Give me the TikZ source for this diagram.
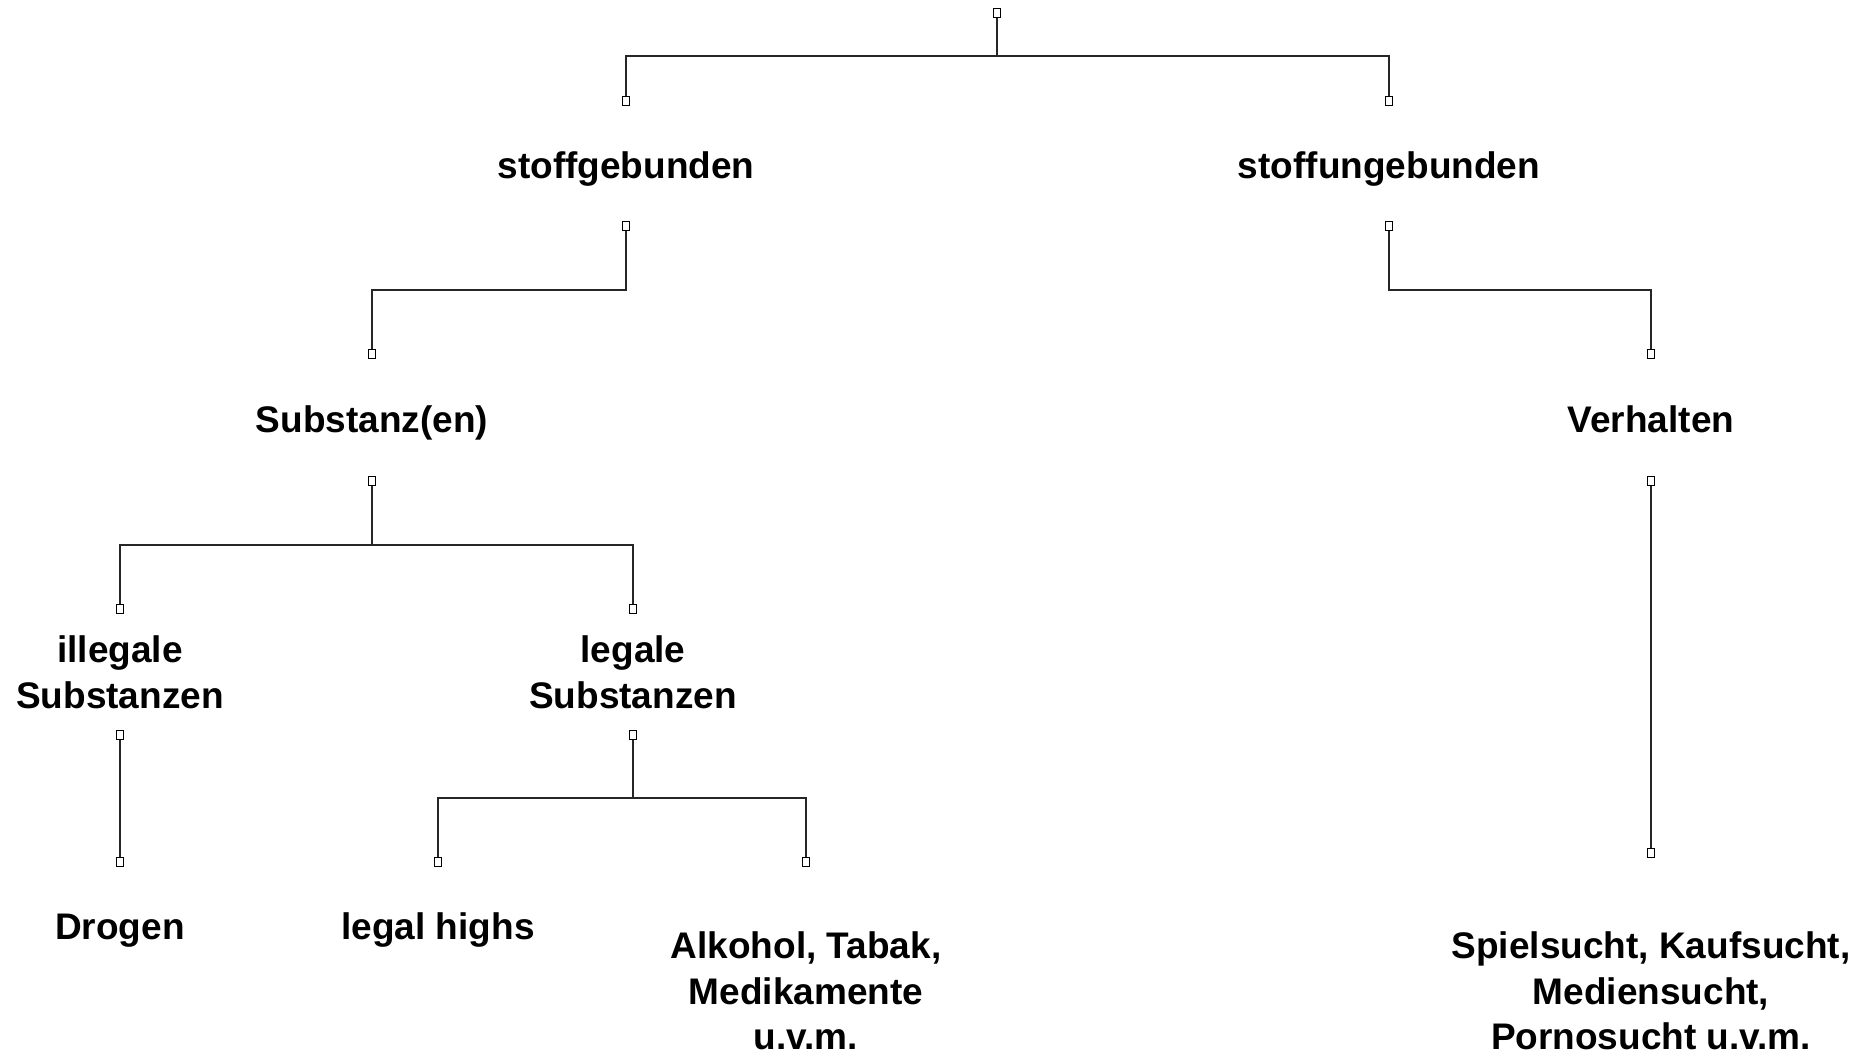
\documentclass[tikz,border=0pt]{standalone}
\usepackage{fontspec}
\setmainfont{Liberation Sans}
\begin{document}
\begin{tikzpicture}[x=0.5pt,y=-0.5pt,
  lbl/.style={font=\bfseries\fontsize{18.5pt}{22.8pt}\selectfont, align=center, inner sep=0pt},
  one/.style={lbl, anchor=base},
  port/.style={draw=black, fill=white, line width=0.65pt, minimum width=3.6pt, minimum height=4.2pt, inner sep=0pt},
  wire/.style={line width=0.9pt, draw=black!85}]
\useasboundingbox (0,0) rectangle (1865,1056);
% ports and labels
\node[port] (p0) at (997,13) {};
\node[port] (p1a) at (626,101) {};
\node[port] (p1b) at (1389,101) {};
\node[one] (t1a) at (626,178) {stoffgebunden};
\node[one] (t1b) at (1389,178) {stoffungebunden};
\node[port] (p2a) at (626,226) {};
\node[port] (p2b) at (1389,226) {};
\node[port] (p3a) at (372,354) {};
\node[port] (p3b) at (1651,354) {};
\node[one] (t3a) at (372,432) {Substanz(en)};
\node[one] (t3b) at (1651,432) {Verhalten};
\node[port] (p4a) at (372,481) {};
\node[port] (p4b) at (1651,481) {};
\node[port] (p5a) at (120,609) {};
\node[port] (p5b) at (633,609) {};
\node[lbl] (t5a) at (120,672) {illegale\\Substanzen};
\node[lbl] (t5b) at (633,672) {legale\\Substanzen};
\node[port] (p6a) at (120,735) {};
\node[port] (p6b) at (633,735) {};
\node[port] (p7a) at (120,862) {};
\node[port] (p7b) at (438,862) {};
\node[port] (p7c) at (806,862) {};
\node[port] (p7d) at (1651,853) {};
\node[one] (t7a) at (120,939.5) {Drogen};
\node[one] (t7b) at (438,939.5) {legal highs};
\node[lbl] (t7c) at (806,991) {Alkohol, Tabak,\\Medikamente\\u.v.m.};
\node[lbl] (t7d) at (1651,991) {Spielsucht, Kaufsucht,\\Mediensucht,\\Pornosucht u.v.m.};
% bar coordinates
\coordinate (b0) at (997,56);
\coordinate (b2a) at (626,290);
\coordinate (b2b) at (1389,290);
\coordinate (b4) at (372,545);
\coordinate (b6) at (633,798);
% wires
\draw[wire] (p0.south) -- (b0);
\draw[wire] (p1a.north) |- (b0) -| (p1b.north);
\draw[wire] (p2a.south) -- (b2a) -| (p3a.north);
\draw[wire] (p2b.south) -- (b2b) -| (p3b.north);
\draw[wire] (p4a.south) -- (b4);
\draw[wire] (p5a.north) |- (b4) -| (p5b.north);
\draw[wire] (p4b.south) -- (p7d.north);
\draw[wire] (p6a.south) -- (p7a.north);
\draw[wire] (p6b.south) -- (b6);
\draw[wire] (p7b.north) |- (b6) -| (p7c.north);
\end{tikzpicture}
\end{document}
